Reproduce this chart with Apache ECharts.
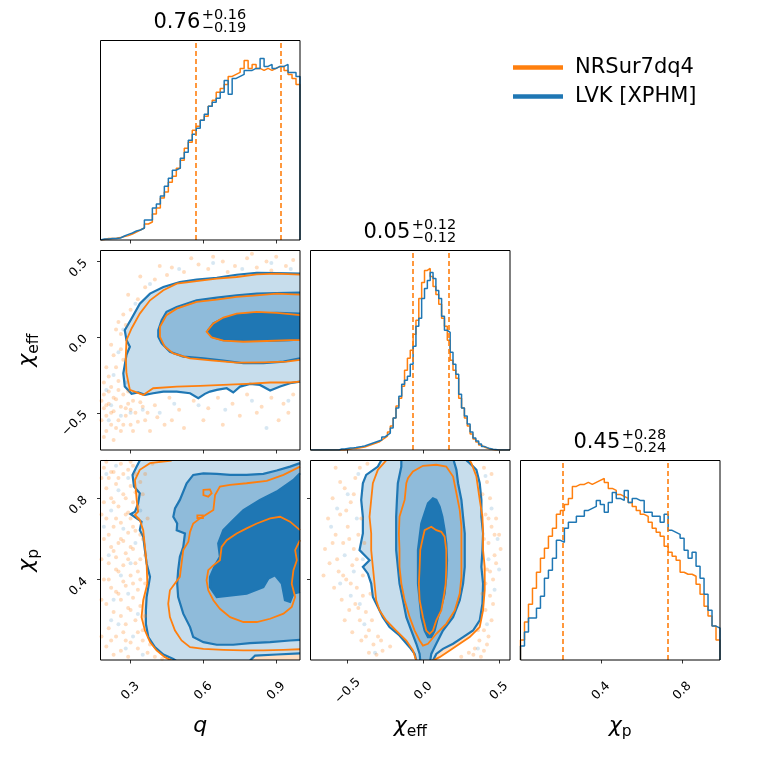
<!DOCTYPE html>
<html>
<head>
<meta charset="utf-8">
<script src="https://cdn.jsdelivr.net/npm/echarts@6/dist/echarts.min.js"></script>
<style>
  html, body { margin: 0; background: #fff; }
  #main { width: 760px; height: 760px; }
</style>
</head>
<body>
<div id="main"></div>
<script>
// ---- axis ranges and ticks ----
var qRange = [0.176, 0.998];
var effRange = [-0.746, 0.572];
var pRange = [0.004, 0.986];
var qTicks = [0.3, 0.6, 0.9];
var effTicks = [-0.5, 0.0, 0.5];
var pTicks = [0.4, 0.8];

// ---- 1D histograms (height as fraction of panel) ----
var qHistNR = [0.003,0.007,0.008,0.009,0.012,0.018,0.022,0.03,0.04,0.05,
  0.06,0.08,0.09,0.13,0.16,0.21,0.24,0.29,0.32,0.36,
  0.4,0.46,0.49,0.55,0.57,0.6,0.62,0.67,0.7,0.74,
  0.76,0.78,0.82,0.83,0.84,0.86,0.9,0.86,0.88,0.86,
  0.85,0.86,0.85,0.86,0.87,0.87,0.85,0.83,0.81,0.78];
var qHistLVK = [0.005,0.005,0.007,0.008,0.01,0.02,0.028,0.035,0.045,0.05,
  0.06,0.1,0.1,0.16,0.18,0.22,0.27,0.31,0.35,0.36,
  0.41,0.44,0.5,0.53,0.56,0.6,0.63,0.67,0.69,0.71,
  0.74,0.8,0.73,0.81,0.82,0.83,0.85,0.85,0.86,0.86,
  0.91,0.87,0.88,0.86,0.87,0.87,0.88,0.84,0.84,0.82];
var effHistNR = [0,0,0,0,0,0,0,0,0,0,
  0,0,0.003,0.005,0.007,0.008,0.01,0.012,0.015,0.02,
  0.025,0.03,0.035,0.04,0.05,0.06,0.07,0.09,0.12,0.16,
  0.22,0.26,0.32,0.40,0.46,0.50,0.58,0.65,0.76,0.84,
  0.90,0.91,0.87,0.82,0.78,0.73,0.66,0.62,0.55,0.45,
  0.40,0.36,0.26,0.21,0.16,0.12,0.08,0.055,0.04,0.025,
  0.015,0.01,0.005,0.003,0,0,0,0,0,0];
var effHistLVK = [0,0,0,0,0,0,0,0,0,0,
  0.005,0.005,0.008,0.01,0.01,0.012,0.015,0.017,0.02,0.025,
  0.03,0.035,0.04,0.045,0.05,0.065,0.075,0.085,0.11,0.16,
  0.21,0.27,0.33,0.35,0.37,0.43,0.52,0.62,0.66,0.76,
  0.81,0.85,0.89,0.86,0.80,0.76,0.67,0.60,0.59,0.49,
  0.43,0.38,0.28,0.21,0.17,0.13,0.09,0.06,0.045,0.03,
  0.018,0.012,0.007,0.004,0.002,0,0,0,0,0];
var pHistNR = [0.10,0.19,0.28,0.36,0.44,0.51,0.56,0.62,0.66,0.73,
  0.75,0.78,0.81,0.87,0.88,0.88,0.89,0.88,0.89,0.90,
  0.91,0.89,0.86,0.85,0.83,0.82,0.81,0.79,0.77,0.75,
  0.73,0.72,0.69,0.66,0.64,0.62,0.57,0.54,0.52,0.50,
  0.44,0.43,0.43,0.42,0.38,0.33,0.27,0.22,0.17,0.10];
var pHistLVK = [0.07,0.14,0.21,0.21,0.26,0.32,0.41,0.45,0.51,0.60,
  0.59,0.66,0.69,0.69,0.72,0.72,0.75,0.76,0.77,0.80,
  0.78,0.74,0.79,0.84,0.81,0.80,0.85,0.79,0.81,0.80,
  0.80,0.74,0.74,0.72,0.72,0.69,0.73,0.65,0.64,0.63,
  0.61,0.55,0.51,0.54,0.47,0.41,0.33,0.25,0.17,0.16];

// 90% interval markers and titles
var qQuant = [0.57, 0.92];
var effQuant = [-0.07, 0.17];
var pQuant = [0.21, 0.73];
var qTitle = ['0.76', '+0.16', '−0.19'];
var effTitle = ['0.05', '+0.12', '−0.12'];
var pTitle = ['0.45', '+0.28', '−0.24'];

// ---- q vs chi_eff ----
var qEffNRPts = [[0.19,-0.47],[0.20,-0.52],[0.21,-0.44],[0.19,-0.38],[0.22,-0.58],[0.23,-0.49],[0.24,-0.41],[0.22,-0.33],
  [0.25,-0.55],[0.26,-0.46],[0.27,-0.38],[0.25,-0.29],[0.21,-0.26],[0.24,-0.20],[0.27,-0.15],[0.26,-0.08],[0.23,-0.12],
  [0.28,-0.52],[0.29,-0.44],[0.30,-0.58],[0.32,-0.50],[0.34,-0.43],[0.31,-0.62],[0.36,-0.55],[0.20,-0.62],[0.18,-0.55],
  [0.26,0.02],[0.28,0.08],[0.24,0.05],[0.30,0.18],[0.33,0.25],[0.36,0.33],[0.40,0.38],[0.45,0.41],[0.52,0.43],[0.58,0.48],
  [0.62,0.45],[0.68,0.50],[0.73,0.47],[0.78,0.52],[0.82,0.46],[0.86,0.50],[0.90,0.53],[0.94,0.47],[0.97,0.51],[0.55,0.52],
  [0.47,0.46],[0.70,0.43],[0.40,-0.45],[0.46,-0.40],[0.50,-0.48],[0.56,-0.42],[0.62,-0.47],[0.66,-0.40],[0.72,-0.44],
  [0.78,-0.38],[0.84,-0.46],[0.88,-0.40],[0.93,-0.44],[0.97,-0.38],[0.60,-0.55],[0.75,-0.52],[0.91,-0.55],[0.44,-0.58],[0.52,-0.60],
  [0.18,-0.42],[0.19,-0.30],[0.20,-0.45],[0.21,-0.36],[0.22,-0.50],[0.23,-0.40],[0.24,-0.60],[0.25,-0.35],[0.26,-0.62],
  [0.27,-0.58],[0.28,-0.47],[0.29,-0.36],[0.30,-0.48],[0.31,-0.42],[0.33,-0.56],[0.35,-0.46],[0.37,-0.50],[0.38,-0.62],
  [0.41,-0.53],[0.47,-0.55],[0.20,-0.20],[0.22,-0.05],[0.25,0.10],[0.27,0.15],[0.29,0.28],[0.34,0.40],[0.42,0.47],
  [0.64,0.53],[0.80,0.55],[0.88,0.44],[0.68,-0.58],[0.82,-0.50],[0.95,-0.50],[0.19,-0.66],[0.23,-0.68]];
var qEffLVKPts = [[0.20,-0.35],[0.23,-0.25],[0.22,-0.45],[0.26,-0.52],[0.28,-0.30],[0.25,-0.10],[0.27,0.05],[0.30,-0.50],
  [0.35,-0.48],[0.42,-0.50],[0.48,-0.44],[0.58,-0.45],[0.69,-0.48],[0.80,-0.42],[0.86,-0.60],[0.95,-0.42],[0.38,0.35],
  [0.50,0.45],[0.64,0.49],[0.76,0.45],[0.88,0.49],[0.96,0.45],[0.21,-0.55],[0.32,0.22]];
var qEffLVK1 = [[0.998,0.419],[0.902,0.423],[0.820,0.425],[0.737,0.412],[0.655,0.392],[0.572,0.379],[0.503,0.364],[0.435,0.331],
  [0.380,0.287],[0.338,0.221],[0.304,0.123],[0.276,0.046],[0.283,-0.020],[0.297,-0.064],[0.283,-0.118],[0.270,-0.239],
  [0.276,-0.327],[0.304,-0.375],[0.331,-0.366],[0.359,-0.382],[0.393,-0.371],[0.435,-0.360],[0.490,-0.360],[0.545,-0.371],
  [0.579,-0.404],[0.606,-0.375],[0.627,-0.360],[0.655,-0.349],[0.696,-0.338],[0.723,-0.366],[0.751,-0.327],[0.792,-0.309],
  [0.833,-0.316],[0.875,-0.353],[0.916,-0.327],[0.957,-0.305],[0.998,-0.294]];
var qEffLVK2 = [[0.998,0.294],[0.902,0.291],[0.820,0.287],[0.737,0.276],[0.655,0.261],[0.572,0.243],[0.490,0.199],[0.448,0.167],
  [0.428,0.112],[0.414,0.046],[0.414,0.002],[0.428,-0.042],[0.462,-0.097],[0.517,-0.129],[0.600,-0.140],[0.682,-0.156],
  [0.765,-0.173],[0.847,-0.173],[0.930,-0.162],[0.998,-0.140]];
var qEffLVK3 = [[0.998,0.155],[0.902,0.160],[0.820,0.155],[0.737,0.145],[0.682,0.123],[0.641,0.090],[0.620,0.046],[0.634,0.002],
  [0.682,-0.020],[0.765,-0.026],[0.861,-0.026],[0.957,-0.020],[0.998,-0.015]];
var qEffNR1 = [[0.998,0.412],[0.902,0.419],[0.820,0.414],[0.737,0.397],[0.655,0.386],[0.572,0.370],[0.490,0.353],[0.435,0.309],
  [0.380,0.243],[0.338,0.155],[0.304,0.057],[0.283,-0.020],[0.280,-0.129],[0.283,-0.239],[0.297,-0.349],[0.352,-0.382],
  [0.393,-0.338],[0.490,-0.327],[0.586,-0.322],[0.682,-0.316],[0.778,-0.309],[0.875,-0.300],[0.957,-0.300],[0.998,-0.294]];
var qEffNR2 = [[0.998,0.280],[0.902,0.287],[0.820,0.276],[0.737,0.265],[0.655,0.248],[0.572,0.232],[0.490,0.188],[0.448,0.145],
  [0.421,0.068],[0.421,0.002],[0.441,-0.064],[0.476,-0.108],[0.545,-0.140],[0.641,-0.156],[0.737,-0.169],[0.847,-0.167],
  [0.943,-0.162],[0.998,-0.151]];
var qEffNR3 = [[0.998,0.145],[0.902,0.160],[0.820,0.167],[0.737,0.155],[0.682,0.129],[0.641,0.090],[0.613,0.035],[0.634,-0.002],
  [0.682,-0.024],[0.765,-0.031],[0.861,-0.026],[0.957,-0.020],[0.998,-0.020]];

// ---- q vs chi_p ----
var qpNRPts = [[0.19,0.95],[0.21,0.90],[0.23,0.93],[0.26,0.97],[0.29,0.94],[0.31,0.96],[0.20,0.85],[0.24,0.87],[0.27,0.82],
  [0.30,0.86],[0.19,0.78],[0.22,0.80],[0.25,0.76],[0.28,0.72],[0.31,0.78],[0.33,0.70],[0.20,0.70],[0.23,0.66],[0.26,0.68],
  [0.29,0.63],[0.32,0.64],[0.35,0.60],[0.19,0.60],[0.22,0.56],[0.25,0.58],[0.28,0.53],[0.31,0.55],[0.34,0.50],[0.21,0.48],
  [0.24,0.45],[0.27,0.47],[0.30,0.42],[0.33,0.44],[0.36,0.38],[0.19,0.40],[0.22,0.36],[0.25,0.33],[0.28,0.37],[0.31,0.31],
  [0.34,0.27],[0.20,0.28],[0.23,0.24],[0.26,0.22],[0.29,0.26],[0.32,0.20],[0.35,0.15],[0.21,0.16],[0.24,0.12],[0.27,0.14],
  [0.30,0.09],[0.33,0.06],[0.37,0.04],[0.20,0.07],[0.23,0.03],[0.26,0.05],[0.29,0.02],[0.40,0.02],[0.34,0.88],[0.36,0.92],
  [0.32,0.83],[0.27,0.59],[0.24,0.51],[0.30,0.70],[0.22,0.93],[0.33,0.35],[0.28,0.18],[0.35,0.10],[0.43,0.01],
  [0.18,0.90],[0.18,0.72],[0.18,0.50],[0.18,0.30],[0.18,0.12],[0.20,0.98],[0.21,0.62],[0.21,0.40],[0.22,0.10],[0.23,0.78],
  [0.23,0.54],[0.24,0.34],[0.24,0.70],[0.25,0.90],[0.25,0.44],[0.26,0.30],[0.26,0.60],[0.27,0.92],[0.27,0.39],[0.28,0.80],
  [0.28,0.10],[0.29,0.50],[0.29,0.73],[0.30,0.56],[0.30,0.25],[0.31,0.66],[0.31,0.38],[0.32,0.92],[0.32,0.48],[0.33,0.76],
  [0.33,0.14],[0.34,0.62],[0.34,0.40],[0.35,0.82],[0.36,0.52],[0.36,0.22],[0.37,0.70],[0.38,0.08],[0.39,0.97],[0.30,0.98]];
var qpLVKPts = [[0.20,0.92],[0.25,0.84],[0.29,0.90],[0.22,0.74],[0.27,0.65],[0.32,0.58],[0.21,0.52],[0.26,0.42],[0.30,0.48],
  [0.23,0.30],[0.29,0.33],[0.33,0.23],[0.25,0.18],[0.31,0.12],[0.28,0.06],[0.35,0.03],[0.19,0.66],[0.24,0.96],[0.34,0.74],[0.22,0.20]];
var qpLVK1a = [[0.338,0.986],[0.325,0.956],[0.308,0.915],[0.314,0.858],[0.338,0.825],[0.331,0.775],[0.318,0.734],[0.300,0.722],
  [0.325,0.701],[0.345,0.685],[0.338,0.643],[0.352,0.611],[0.359,0.545],[0.366,0.479],[0.380,0.413],[0.373,0.363],[0.366,0.314],
  [0.363,0.248],[0.363,0.182],[0.373,0.117],[0.400,0.067],[0.435,0.031],[0.476,0.009],[0.487,0.001]];
var qpLVK1b = [[0.792,0.001],[0.813,0.026],[0.902,0.031],[0.998,0.037]];
var qpLVK2 = [[0.998,0.973],[0.957,0.956],[0.902,0.937],[0.847,0.920],[0.778,0.915],[0.710,0.915],[0.655,0.920],[0.600,0.923],
  [0.558,0.915],[0.531,0.874],[0.503,0.792],[0.483,0.750],[0.476,0.709],[0.492,0.676],[0.490,0.643],[0.524,0.627],[0.517,0.561],
  [0.503,0.512],[0.496,0.446],[0.492,0.380],[0.496,0.314],[0.517,0.232],[0.545,0.166],[0.558,0.117],[0.600,0.092],[0.655,0.079],
  [0.723,0.079],[0.792,0.087],[0.875,0.092],[0.957,0.100],[0.998,0.103]];
var qpLVK3 = [[0.998,0.923],[0.971,0.890],[0.902,0.833],[0.833,0.792],[0.765,0.742],[0.723,0.693],[0.682,0.643],[0.661,0.578],
  [0.668,0.512],[0.648,0.470],[0.627,0.413],[0.627,0.363],[0.655,0.314],[0.778,0.331],[0.847,0.363],[0.868,0.405],[0.895,0.421],
  [0.923,0.380],[0.936,0.298],[0.957,0.290],[0.971,0.331],[0.998,0.339]];
var qpNR1 = [[0.469,0.986],[0.380,0.973],[0.338,0.940],[0.318,0.890],[0.325,0.792],[0.331,0.734],[0.318,0.718],[0.338,0.693],
  [0.352,0.643],[0.359,0.561],[0.366,0.479],[0.369,0.380],[0.352,0.298],[0.345,0.215],[0.359,0.149],[0.380,0.092],[0.407,0.051],
  [0.441,0.018],[0.469,0.001]];
var qpNR2 = [[0.998,0.956],[0.930,0.915],[0.861,0.886],[0.778,0.874],[0.710,0.866],[0.668,0.858],[0.648,0.816],[0.641,0.742],
  [0.586,0.701],[0.558,0.676],[0.545,0.635],[0.538,0.586],[0.517,0.545],[0.510,0.479],[0.503,0.413],[0.462,0.347],[0.455,0.281],
  [0.462,0.215],[0.483,0.149],[0.510,0.100],[0.545,0.067],[0.600,0.059],[0.682,0.054],[0.765,0.051],[0.847,0.051],[0.930,0.054],[0.998,0.057]];
var qpNR3 = [[0.998,0.643],[0.957,0.685],[0.916,0.709],[0.875,0.701],[0.820,0.676],[0.778,0.652],[0.737,0.627],[0.696,0.594],
  [0.675,0.561],[0.668,0.495],[0.641,0.470],[0.620,0.446],[0.613,0.396],[0.620,0.347],[0.641,0.298],[0.668,0.256],[0.710,0.215],
  [0.765,0.191],[0.820,0.191],[0.875,0.207],[0.930,0.232],[0.964,0.265],[0.978,0.314],[0.964,0.380],[0.971,0.446],[0.985,0.495],
  [0.978,0.545],[0.998,0.594]];
var qpNRIsland1 = [[0.600,0.841],[0.627,0.844],[0.634,0.825],[0.620,0.808],[0.600,0.816]];
var qpNRIsland2 = [[0.575,0.716],[0.598,0.716],[0.598,0.703],[0.575,0.703]];

// ---- chi_eff vs chi_p ----
var epNRPts = [[-0.60,0.80],[-0.55,0.72],[-0.52,0.85],[-0.48,0.78],[-0.45,0.90],[-0.42,0.95],[-0.58,0.62],[-0.53,0.58],[-0.50,0.66],
  [-0.46,0.55],[-0.43,0.62],[-0.62,0.48],[-0.56,0.44],[-0.51,0.40],[-0.47,0.47],[-0.44,0.36],[-0.40,0.42],[-0.54,0.30],[-0.49,0.25],
  [-0.45,0.28],[-0.42,0.20],[-0.38,0.24],[-0.47,0.14],[-0.41,0.10],[-0.36,0.15],[-0.33,0.08],[-0.30,0.12],[-0.27,0.05],[-0.22,0.07],
  [-0.35,0.33],[-0.65,0.55],[-0.59,0.36],[-0.37,0.97],[0.40,0.95],[0.42,0.88],[0.44,0.80],[0.41,0.72],[0.45,0.66],[0.43,0.58],
  [0.47,0.52],[0.42,0.45],[0.46,0.40],[0.44,0.32],[0.41,0.25],[0.45,0.20],[0.40,0.15],[0.37,0.10],[0.34,0.06],[0.30,0.04],
  [0.48,0.70],[0.50,0.62],[0.39,0.33],[0.43,0.12],[0.38,0.02],[0.25,0.02],
  [-0.63,0.70],[-0.60,0.58],[-0.57,0.50],[-0.55,0.88],[-0.53,0.42],[-0.51,0.74],[-0.49,0.60],[-0.48,0.38],[-0.46,0.82],
  [-0.44,0.50],[-0.43,0.26],[-0.41,0.70],[-0.40,0.32],[-0.39,0.58],[-0.38,0.12],[-0.36,0.04],[-0.34,0.20],[-0.31,0.03],
  [-0.28,0.10],[-0.52,0.20],[-0.66,0.42],[-0.58,0.95],[0.39,0.82],[0.40,0.60],[0.41,0.38],[0.43,0.70],[0.44,0.44],[0.45,0.92],
  [0.46,0.28],[0.47,0.62],[0.48,0.48],[0.40,0.05],[0.36,0.15],[0.33,0.03],[0.51,0.55],[0.42,0.08]];
var epLVKPts = [[-0.57,0.75],[-0.50,0.82],[-0.44,0.70],[-0.52,0.52],[-0.46,0.44],[-0.40,0.50],[-0.55,0.38],[-0.48,0.32],[-0.42,0.28],
  [-0.39,0.18],[-0.32,0.04],[-0.61,0.66],[-0.43,0.92],[0.41,0.91],[0.45,0.75],[0.49,0.60],[0.43,0.50],[0.47,0.35],[0.42,0.18],
  [0.36,0.06],[0.50,0.45]];
var epLVK1L = [[-0.279,0.986],[-0.301,0.956],[-0.378,0.915],[-0.400,0.874],[-0.411,0.792],[-0.400,0.709],[-0.400,0.627],[-0.422,0.545],
  [-0.356,0.495],[-0.400,0.462],[-0.367,0.429],[-0.345,0.380],[-0.334,0.314],[-0.301,0.265],[-0.268,0.215],[-0.224,0.166],
  [-0.158,0.125],[-0.091,0.067],[-0.058,0.034],[-0.047,0.001]];
var epLVK1R = [[0.063,0.001],[0.085,0.034],[0.129,0.059],[0.196,0.084],[0.262,0.117],[0.328,0.149],[0.372,0.199],[0.390,0.281],
  [0.394,0.380],[0.383,0.462],[0.390,0.545],[0.394,0.627],[0.383,0.709],[0.383,0.792],[0.372,0.874],[0.350,0.940],[0.306,0.973],[0.284,0.986]];
var epLVK2L = [[-0.146,0.986],[-0.146,0.956],[-0.169,0.874],[-0.175,0.792],[-0.180,0.709],[-0.180,0.627],[-0.180,0.545],[-0.169,0.462],
  [-0.158,0.380],[-0.135,0.298],[-0.113,0.215],[-0.080,0.149],[-0.047,0.084],[-0.025,0.034],[-0.021,0.001]];
var epLVK2R = [[0.045,0.001],[0.052,0.034],[0.085,0.084],[0.129,0.149],[0.196,0.215],[0.240,0.298],[0.262,0.380],[0.273,0.462],
  [0.273,0.545],[0.273,0.627],[0.262,0.709],[0.251,0.792],[0.229,0.874],[0.218,0.940],[0.200,0.986]];
var epLVK3 = [[0.063,0.800],[0.030,0.775],[0.008,0.726],[-0.014,0.676],[-0.025,0.611],[-0.036,0.545],[-0.036,0.462],[-0.036,0.380],
  [-0.025,0.298],[-0.014,0.215],[0.008,0.149],[0.030,0.117],[0.052,0.117],[0.074,0.149],[0.096,0.215],[0.118,0.265],[0.140,0.331],
  [0.151,0.413],[0.156,0.495],[0.151,0.578],[0.140,0.643],[0.125,0.709],[0.107,0.759],[0.085,0.792]];
var epNR1L = [[-0.246,0.986],[-0.301,0.940],[-0.334,0.874],[-0.345,0.792],[-0.356,0.709],[-0.345,0.627],[-0.345,0.545],[-0.334,0.462],
  [-0.323,0.380],[-0.312,0.298],[-0.290,0.248],[-0.246,0.199],[-0.180,0.149],[-0.113,0.100],[-0.069,0.051],[-0.047,0.001]];
var epNR1R = [[0.063,0.001],[0.107,0.018],[0.174,0.051],[0.240,0.084],[0.306,0.117],[0.372,0.166],[0.394,0.248],[0.405,0.347],
  [0.405,0.462],[0.394,0.545],[0.394,0.627],[0.390,0.709],[0.372,0.792],[0.350,0.907],[0.317,0.973],[0.306,0.986]];
var epNR2 = [[-0.113,0.874],[-0.124,0.792],[-0.158,0.709],[-0.162,0.627],[-0.158,0.545],[-0.158,0.462],[-0.146,0.380],[-0.124,0.298],
  [-0.091,0.215],[-0.058,0.149],[-0.025,0.100],[-0.003,0.075],[0.030,0.084],[0.085,0.133],[0.151,0.182],[0.207,0.248],[0.240,0.331],
  [0.251,0.413],[0.251,0.495],[0.251,0.578],[0.251,0.660],[0.240,0.742],[0.218,0.825],[0.196,0.907],[0.151,0.956],[0.085,0.965],
  [-0.003,0.960],[-0.069,0.932],[-0.102,0.899]];
var epNR3 = [[0.052,0.660],[0.008,0.643],[-0.007,0.594],[-0.021,0.545],[-0.025,0.462],[-0.030,0.380],[-0.025,0.298],[-0.003,0.215],
  [0.019,0.149],[0.041,0.133],[0.063,0.149],[0.085,0.199],[0.118,0.248],[0.134,0.314],[0.147,0.380],[0.151,0.462],[0.151,0.545],
  [0.140,0.611],[0.118,0.635],[0.085,0.643]];

// ---- styling ----
var FONT = '"DejaVu Sans", sans-serif';
var NR = '#ff7f0e', LVK = '#1f77b4';
var NR_DOT = 'rgba(255,127,14,0.33)', LVK_DOT = 'rgba(31,119,180,0.22)';
var LVK_FILL = ['rgb(199,221,236)', 'rgb(143,187,218)', 'rgb(31,119,180)'];
var NR_FILL = 'rgb(255,223,195)';
var colLeft = [100.5, 310.5, 520.5];
var rowTop = [40.5, 250.5, 460.5];
var SIZE = 199.5;

function fmt(v) { return v.toFixed(1).replace('-', '−'); }
var nameRich = {
  i: { fontSize: 22, fontStyle: 'italic', fontFamily: FONT, color: '#000', padding: [0, 0, 3, 0], verticalAlign: 'bottom' },
  s: { fontSize: 15.5, fontFamily: FONT, color: '#000', verticalAlign: 'bottom' }
};

// grids: 0 q-hist, 1 q/eff, 2 q/p, 3 eff-hist, 4 eff/p, 5 p-hist
var cells = [[0, 0], [0, 1], [0, 2], [1, 1], [1, 2], [2, 2]];
var grids = cells.map(function (c) {
  return { left: colLeft[c[0]], top: rowTop[c[1]], width: SIZE, height: SIZE, show: true,
    backgroundColor: 'transparent', borderColor: '#000', borderWidth: 1, z: 10, outerBoundsMode: 'none' };
});

function axis(isX, gi, range, ticks, labels, name) {
  var a = {
    type: 'value', gridIndex: gi, min: range[0], max: range[1], position: isX ? 'bottom' : 'left',
    axisLine: { show: false, onZero: false }, splitLine: { show: false },
    axisTick: { show: !!ticks, customValues: ticks || [], length: 3.5, lineStyle: { color: '#000', width: 0.8 } },
    axisLabel: { show: !!labels, customValues: ticks || [], rotate: 45, fontSize: 12.5, fontFamily: FONT, color: '#000',
      formatter: fmt, margin: isX ? 31 : 15 }
  };
  if (isX) { a.axisLabel.align = 'center'; a.axisLabel.verticalAlign = 'middle'; }
  if (name) {
    a.name = name; a.nameLocation = 'middle'; a.nameGap = isX ? 55 : 59; a.nameRotate = isX ? 0 : 90;
    a.nameTextStyle = { fontFamily: FONT, rich: nameRich };
  }
  return a;
}
var histY = [0, 1];
var xAxes = [
  axis(true, 0, qRange, qTicks, false),
  axis(true, 1, qRange, qTicks, false),
  axis(true, 2, qRange, qTicks, true, '{i|q}'),
  axis(true, 3, effRange, effTicks, false),
  axis(true, 4, effRange, effTicks, true, '{i|χ}{s|eff}'),
  axis(true, 5, pRange, pTicks, true, '{i|χ}{s|p}')
];
var yAxes = [
  axis(false, 0, histY, null, false),
  axis(false, 1, effRange, effTicks, true, '{i|χ}{s|eff}'),
  axis(false, 2, pRange, pTicks, true, '{i|χ}{s|p}'),
  axis(false, 3, histY, null, false),
  axis(false, 4, pRange, pTicks, false),
  axis(false, 5, histY, null, false)
];

function stepData(range, h) {
  var w = (range[1] - range[0]) / h.length;
  var pts = [[range[0], 0]];
  h.forEach(function (v, i) { pts.push([range[0] + i * w, v]); });
  pts.push([range[1], h[h.length - 1]]);
  pts.push([range[1], 0]);
  return pts;
}
function hist(gi, name, color, range, h, quant) {
  var s = { type: 'line', name: name, xAxisIndex: gi, yAxisIndex: gi, step: 'end', showSymbol: false, symbol: 'none',
    color: color, lineStyle: { color: color, width: 1.5 }, data: stepData(range, h), clip: true, silent: true };
  if (quant) {
    s.markLine = { silent: true, symbol: ['none', 'none'], label: { show: false },
      lineStyle: { color: NR, type: [5, 3], width: 1.6 },
      data: quant.map(function (v) { return { xAxis: v }; }) };
  }
  return s;
}
function dots(gi, pts, color) {
  return { type: 'scatter', xAxisIndex: gi, yAxisIndex: gi, data: pts, symbolSize: 4,
    itemStyle: { color: color }, silent: true };
}
function shape(gi, pts, fill, stroke, width, closed) {
  return { type: 'custom', xAxisIndex: gi, yAxisIndex: gi, clip: true, silent: true, data: [[0, 0]],
    renderItem: function (params, api) {
      var p = pts.map(function (v) { return api.coord(v); });
      return { type: closed || fill ? 'polygon' : 'polyline', shape: { points: p },
        style: { fill: fill || null, stroke: stroke || null, lineWidth: width || 0 } };
    } };
}

var series = [];
series.push(hist(0, 'NRSur7dq4', NR, qRange, qHistNR, qQuant));
series.push(hist(0, 'LVK [XPHM]', LVK, qRange, qHistLVK));
series.push(hist(3, 'NRSur7dq4', NR, effRange, effHistNR, effQuant));
series.push(hist(3, 'LVK [XPHM]', LVK, effRange, effHistLVK));
series.push(hist(5, 'NRSur7dq4', NR, pRange, pHistNR, pQuant));
series.push(hist(5, 'LVK [XPHM]', LVK, pRange, pHistLVK));

// q / chi_eff
series.push(dots(1, qEffNRPts, NR_DOT), dots(1, qEffLVKPts, LVK_DOT));
series.push(shape(1, qEffNR1, NR_FILL));
series.push(shape(1, qEffLVK1, LVK_FILL[0]), shape(1, qEffLVK2, LVK_FILL[1]), shape(1, qEffLVK3, LVK_FILL[2]));
[qEffLVK1, qEffLVK2, qEffLVK3].forEach(function (l) { series.push(shape(1, l, null, LVK, 2.2)); });
[qEffNR1, qEffNR2, qEffNR3].forEach(function (l) { series.push(shape(1, l, null, NR, 1.8)); });

// q / chi_p
series.push(dots(2, qpNRPts, NR_DOT), dots(2, qpLVKPts, LVK_DOT));
series.push(shape(2, qpNR1.concat([[qRange[1], pRange[0]], [qRange[1], pRange[1]]]), NR_FILL));
series.push(shape(2, qpLVK1a.concat(qpLVK1b, [[qRange[1], pRange[1]]]), LVK_FILL[0]));
series.push(shape(2, qpLVK2, LVK_FILL[1]), shape(2, qpLVK3, LVK_FILL[2]));
[qpLVK1a, qpLVK1b, qpLVK2, qpLVK3].forEach(function (l) { series.push(shape(2, l, null, LVK, 2.2)); });
[qpNR1, qpNR2, qpNR3].forEach(function (l) { series.push(shape(2, l, null, NR, 1.8)); });
series.push(shape(2, qpNRIsland1, null, NR, 1.8, true), shape(2, qpNRIsland2, null, NR, 1.8, true));

// chi_eff / chi_p
series.push(dots(4, epNRPts, NR_DOT), dots(4, epLVKPts, LVK_DOT));
series.push(shape(4, epNR1L.concat(epNR1R), NR_FILL));
series.push(shape(4, epLVK1L.concat(epLVK1R), LVK_FILL[0]), shape(4, epLVK2L.concat(epLVK2R), LVK_FILL[1]),
  shape(4, epLVK3, LVK_FILL[2]));
[epLVK1L, epLVK1R, epLVK2L, epLVK2R].forEach(function (l) { series.push(shape(4, l, null, LVK, 2.2)); });
series.push(shape(4, epLVK3, null, LVK, 2.2, true));
[epNR1L, epNR1R].forEach(function (l) { series.push(shape(4, l, null, NR, 1.8)); });
series.push(shape(4, epNR2, null, NR, 1.8, true), shape(4, epNR3, null, NR, 1.8, true));

// titles over the diagonal panels
var graphics = [];
[[qTitle, 0, 0], [effTitle, 1, 1], [pTitle, 2, 2]].forEach(function (t) {
  var cx = colLeft[t[1]] + SIZE / 2, top = rowTop[t[2]];
  graphics.push({ type: 'text', x: cx, y: top - 17.5, style: { text: t[0][0], font: '21px ' + FONT, fill: '#000', align: 'right', verticalAlign: 'middle' } });
  graphics.push({ type: 'text', x: cx + 1.5, y: top - 25, style: { text: t[0][1], font: '14.5px ' + FONT, fill: '#000', align: 'left', verticalAlign: 'middle' } });
  graphics.push({ type: 'text', x: cx + 1.5, y: top - 12, style: { text: t[0][2], font: '14.5px ' + FONT, fill: '#000', align: 'left', verticalAlign: 'middle' } });
});

var chart = echarts.init(document.getElementById('main'));
chart.setOption({
  animation: false,
  backgroundColor: '#fff',
  grid: grids,
  xAxis: xAxes,
  yAxis: yAxes,
  legend: {
    orient: 'vertical', left: 508, top: 52, itemWidth: 50, itemHeight: 4.5, itemGap: 8, icon: 'rect',
    selectedMode: false,
    textStyle: { fontSize: 21, fontFamily: FONT, color: '#000', padding: [0, 0, 0, 7] },
    data: [{ name: 'NRSur7dq4', itemStyle: { color: NR } }, { name: 'LVK [XPHM]', itemStyle: { color: LVK } }]
  },
  graphic: graphics,
  series: series
});
</script>
</body>
</html>
